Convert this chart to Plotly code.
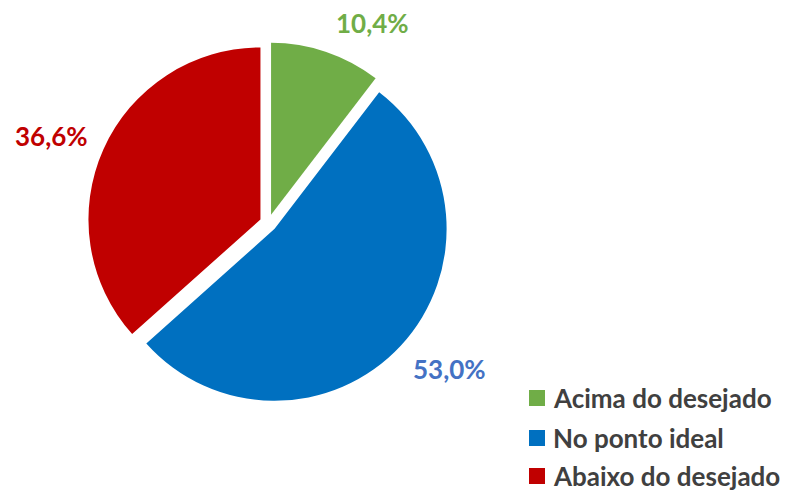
import plotly.graph_objects as go

# Distribution of answers
labels = ["Acima do desejado", "No ponto ideal", "Abaixo do desejado"]
values = [10.4, 53.0, 36.6]
slice_colors = ["#70AD47", "#0070C0", "#C00000"]
label_colors = ["#70AD47", "#4472C4", "#C00000"]

W, H = 786, 493
FONT = "Lato"
TEXT_GRAY = "#404040"


def fx(x):
    return x / W


def fy(y):
    return 1 - y / H


def pct(v):
    return f"{v:.1f}%".replace(".", ",")


fig = go.Figure(
    go.Pie(
        labels=labels,
        values=values,
        sort=False,
        direction="clockwise",
        rotation=0,
        pull=[0.05, 0.05, 0.05],
        marker=dict(colors=slice_colors, line=dict(color="white", width=0)),
        textinfo="none",
        hoverinfo="label+percent",
        showlegend=False,
        domain=dict(x=[fx(87.7), fx(448.9)], y=[fy(403.6), fy(42.4)]),
    )
)

# Percentage labels around the pie
label_pos = [(372.5, 23), (450, 369), (52, 136)]
annotations = []
for v, c, (x, y) in zip(values, label_colors, label_pos):
    annotations.append(
        dict(
            x=fx(x), y=fy(y), xref="paper", yref="paper",
            text=pct(v), showarrow=False,
            xanchor="center", yanchor="middle",
            font=dict(family=FONT, size=26, color=c, weight="bold"),
        )
    )

# Legend: colour squares with category names
shapes = []
row_centers = [398, 438, 476]
for lab, c, yc in zip(labels, slice_colors, row_centers):
    shapes.append(
        dict(
            type="rect", xref="paper", yref="paper",
            x0=fx(529), x1=fx(545), y0=fy(yc + 8), y1=fy(yc - 8),
            fillcolor=c, line=dict(width=0),
        )
    )
    annotations.append(
        dict(
            x=fx(552), y=fy(yc), xref="paper", yref="paper",
            text=lab, showarrow=False, borderpad=0,
            xanchor="left", yanchor="middle",
            font=dict(family=FONT, size=26, color=TEXT_GRAY, weight="bold"),
        )
    )

fig.update_layout(
    width=W, height=H,
    margin=dict(l=0, r=0, t=0, b=0),
    paper_bgcolor="white",
    plot_bgcolor="white",
    annotations=annotations,
    shapes=shapes,
)

fig.write_html("out.html")
